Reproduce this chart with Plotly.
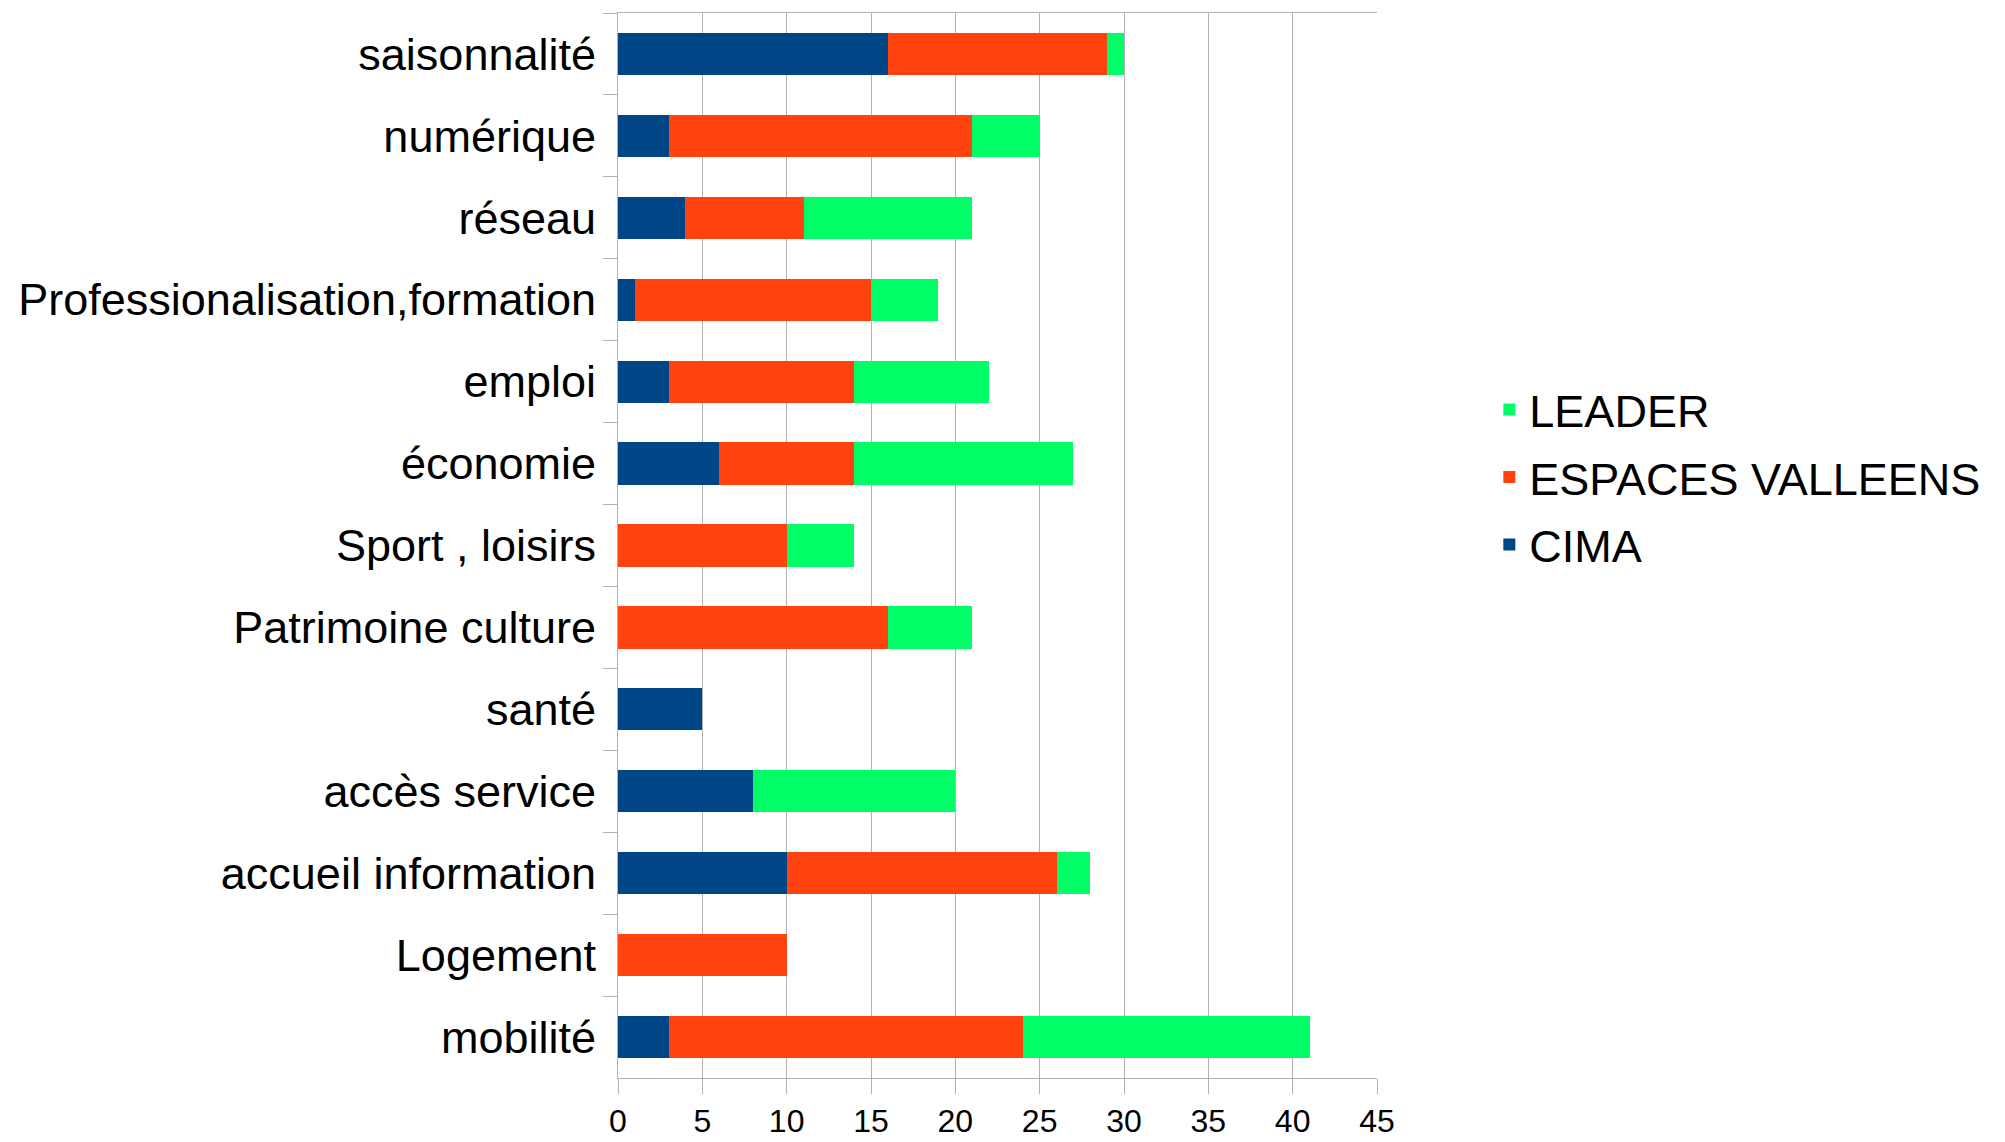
import plotly.graph_objects as go

categories = [
    "saisonnalité",
    "numérique",
    "réseau",
    "Professionalisation,formation",
    "emploi",
    "économie",
    "Sport , loisirs",
    "Patrimoine culture",
    "santé",
    "accès service",
    "accueil information",
    "Logement",
    "mobilité",
]

cima = [16, 3, 4, 1, 3, 6, 0, 0, 5, 8, 10, 0, 3]
espaces_valleens = [13, 18, 7, 14, 11, 8, 10, 16, 0, 0, 16, 10, 21]
leader = [1, 4, 10, 4, 8, 13, 4, 5, 0, 12, 2, 0, 17]

x_ticks = [0, 5, 10, 15, 20, 25, 30, 35, 40, 45]

# (nom, valeurs, couleur, rang dans la légende)
series = [
    ("CIMA", cima, "#004586", 3),
    ("ESPACES VALLEENS", espaces_valleens, "#ff420e", 2),
    ("LEADER", leader, "#00ff66", 1),
]

fig = go.Figure()
for nom, valeurs, couleur, rang in series:
    fig.add_trace(
        go.Bar(
            y=categories,
            x=valeurs,
            name=nom,
            orientation="h",
            marker=dict(color=couleur, line=dict(width=0)),
            legendgroup=nom,
            legendrank=rang,
        )
    )

police = "Liberation Sans, Arial, sans-serif"

# la page ajoute ~8 px de marge autour du graphique
fig.update_layout(
    width=2005,
    height=1142,
    barmode="stack",
    bargap=0.485,
    plot_bgcolor="white",
    paper_bgcolor="white",
    margin=dict(l=610, r=636, t=5, b=72),
    showlegend=True,
    legend=dict(
        traceorder="grouped",
        tracegroupgap=6,
        font=dict(family=police, size=45, color="black"),
        x=1.148,
        xanchor="left",
        y=0.564,
        yanchor="middle",
        bgcolor="rgba(0,0,0,0)",
    ),
    xaxis=dict(
        range=[0, 45],
        tickvals=x_ticks,
        automargin=False,
        showgrid=True,
        gridcolor="#b3b3b3",
        gridwidth=1,
        zeroline=False,
        showline=True,
        linecolor="#b3b3b3",
        mirror=True,
        ticks="outside",
        ticklen=15,
        tickcolor="#b3b3b3",
        tickfont=dict(family=police, size=32, color="black"),
    ),
    yaxis=dict(
        autorange="reversed",
        automargin=False,
        showgrid=False,
        showline=True,
        linecolor="#b3b3b3",
        ticks="outside",
        tickson="boundaries",
        ticklen=14,
        tickcolor="#b3b3b3",
        ticklabelstandoff=12,
        tickfont=dict(family=police, size=45, color="black"),
    ),
)

fig.write_html("out.html")
